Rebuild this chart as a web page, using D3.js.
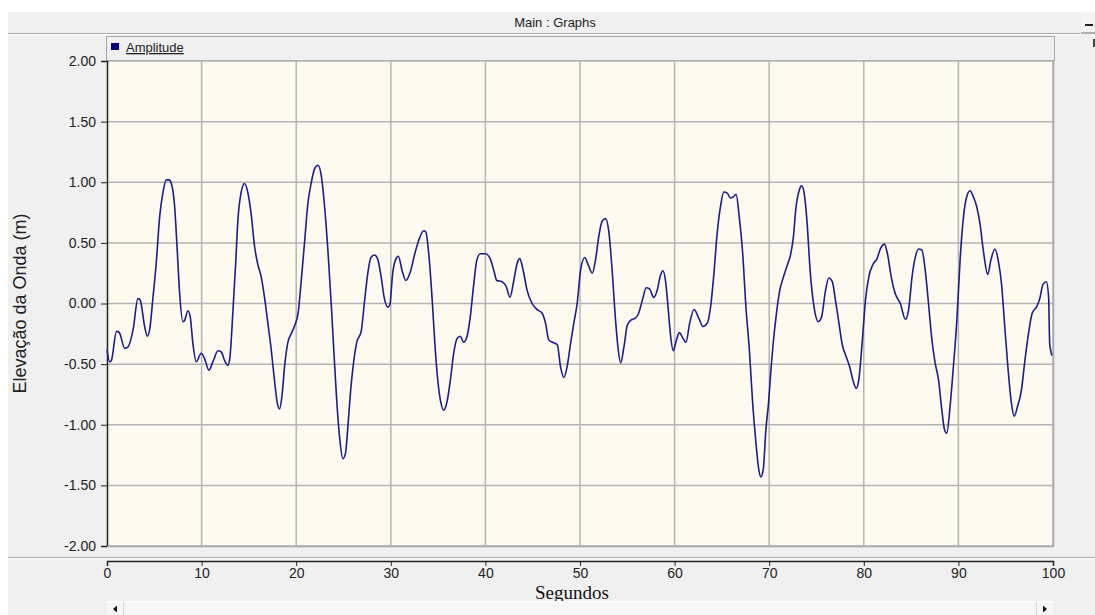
<!DOCTYPE html>
<html>
<head>
<meta charset="utf-8">
<script src="https://cdn.jsdelivr.net/npm/d3@7"></script>
<style>
  body { margin: 0; background: #fff; }
  text { font-family: "Liberation Sans", Arial, sans-serif; }
</style>
</head>
<body>
<div id="chart"></div>
<script>
// Time samples (s) and wave elevation (m)
const seconds = [
  0, 0.28, 0.46, 1.0, 1.3, 1.87, 2.2, 2.75, 3.27, 3.5, 3.98, 4.26, 4.5, 4.86, 5.2, 5.56, 5.9, 6.27, 6.55, 6.8,
  7.15, 7.39, 7.68, 8.03, 8.2, 8.56, 8.8, 9.08, 9.44, 9.96, 10.3, 10.77, 11.2, 11.73, 12.08, 12.43, 12.78, 13.0, 13.3, 13.6,
  13.84, 14.19, 14.54, 14.9, 15.25, 15.6, 15.95, 16.3, 16.65, 17.0, 17.36, 17.7, 18.0, 18.24, 18.5, 18.77, 19.12, 19.47, 19.8, 20.2,
  20.5, 20.9, 21.2, 21.6, 21.94, 22.3, 22.64, 23.0, 23.35, 23.7, 24.05, 24.4, 24.65, 24.93, 25.2, 25.46, 25.7, 26.06, 26.4, 26.87,
  27.2, 27.57, 27.9, 28.27, 28.6, 28.98, 29.3, 29.68, 29.9, 30.2, 30.5, 30.8, 31.2, 31.6, 32.1, 32.5, 32.95, 33.47, 33.7, 34.07,
  34.4, 34.7, 35.0, 35.3, 35.6, 35.94, 36.3, 36.65, 37.0, 37.35, 37.7, 38.06, 38.4, 38.77, 39.1, 39.47, 40.0, 40.5, 40.9, 41.2,
  41.76, 42.2, 42.6, 43.0, 43.35, 43.63, 44.0, 44.4, 44.94, 45.47, 46.0, 46.35, 46.7, 47.1, 47.6, 47.94, 48.3, 48.64, 49.0, 49.35,
  49.7, 50.05, 50.5, 50.86, 51.3, 51.64, 52.0, 52.35, 52.7, 53.05, 53.4, 53.76, 54.04, 54.3, 54.64, 55.0, 55.34, 55.87, 56.2, 56.6,
  57.0, 57.35, 57.8, 58.16, 58.5, 58.77, 59.05, 59.33, 59.58, 59.86, 60.1, 60.5, 60.9, 61.2, 61.6, 62.05, 62.5, 63.0, 63.46, 63.8,
  64.16, 64.5, 64.87, 65.2, 65.57, 65.9, 66.2, 66.5, 66.84, 67.2, 67.54, 67.9, 68.25, 68.6, 68.9, 69.12, 69.37, 69.65, 69.93, 70.18,
  70.42, 70.77, 71.12, 71.47, 71.93, 72.28, 72.56, 72.8, 73.16, 73.44, 73.75, 74.04, 74.3, 74.74, 75.2, 75.54, 75.96, 76.3, 76.67, 77.0,
  77.37, 77.7, 78.14, 78.5, 78.84, 79.2, 79.47, 79.82, 80.18, 80.53, 80.95, 81.4, 81.75, 82.18, 82.5, 82.9, 83.33, 83.86, 84.4, 84.74,
  85.1, 85.44, 85.8, 86.14, 86.5, 86.84, 87.2, 87.54, 87.9, 88.25, 88.53, 88.77, 89.12, 89.47, 89.82, 90.18, 90.53, 90.88, 91.23, 91.58,
  91.93, 92.28, 92.63, 93.1, 93.44, 93.86, 94.2, 94.56, 94.9, 95.26, 95.6, 95.9, 96.25, 96.67, 97.0, 97.37, 97.8, 98.25, 98.6, 98.95,
  99.3, 99.54, 99.65, 99.9
];
const amplitude = [
  -0.38, -0.48, -0.47, -0.23, -0.24, -0.37, -0.36, -0.22, 0.04, 0.03, -0.19, -0.27, -0.22, 0.05, 0.33, 0.71, 0.91, 1.02, 1.02, 0.99,
  0.80, 0.49, 0.08, -0.15, -0.14, -0.06, -0.11, -0.33, -0.48, -0.41, -0.45, -0.55, -0.48, -0.39, -0.40, -0.47, -0.51, -0.44, -0.08, 0.33,
  0.69, 0.92, 0.99, 0.91, 0.73, 0.47, 0.32, 0.22, 0.05, -0.16, -0.38, -0.63, -0.82, -0.87, -0.76, -0.52, -0.32, -0.25, -0.19, -0.08,
  0.16, 0.52, 0.80, 1.00, 1.11, 1.14, 1.06, 0.80, 0.44, 0.00, -0.49, -0.93, -1.15, -1.28, -1.24, -1.02, -0.77, -0.49, -0.32, -0.23,
  0.00, 0.25, 0.38, 0.40, 0.37, 0.22, 0.05, -0.03, -0.01, 0.25, 0.36, 0.39, 0.27, 0.19, 0.27, 0.40, 0.52, 0.60, 0.59, 0.36,
  0.00, -0.38, -0.66, -0.82, -0.88, -0.81, -0.63, -0.41, -0.29, -0.27, -0.32, -0.27, -0.11, 0.16, 0.36, 0.41, 0.41, 0.37, 0.27, 0.19,
  0.18, 0.14, 0.05, 0.19, 0.33, 0.37, 0.27, 0.11, 0.00, -0.05, -0.08, -0.16, -0.30, -0.32, -0.34, -0.52, -0.61, -0.52, -0.33, -0.16,
  0.00, 0.27, 0.38, 0.32, 0.25, 0.36, 0.56, 0.68, 0.70, 0.59, 0.27, -0.14, -0.38, -0.49, -0.36, -0.18, -0.14, -0.12, -0.08, 0.03,
  0.13, 0.12, 0.05, 0.11, 0.23, 0.27, 0.18, -0.05, -0.27, -0.39, -0.33, -0.24, -0.29, -0.32, -0.16, -0.05, -0.11, -0.19, -0.16, -0.03,
  0.25, 0.58, 0.81, 0.92, 0.91, 0.87, 0.88, 0.90, 0.71, 0.41, -0.03, -0.38, -0.82, -1.15, -1.37, -1.43, -1.37, -1.04, -0.82, -0.55,
  -0.33, -0.08, 0.11, 0.21, 0.32, 0.41, 0.55, 0.77, 0.93, 0.97, 0.88, 0.63, 0.30, -0.03, -0.15, -0.11, 0.11, 0.21, 0.18, 0.03,
  -0.16, -0.33, -0.44, -0.52, -0.63, -0.70, -0.63, -0.33, 0.03, 0.22, 0.32, 0.37, 0.45, 0.49, 0.41, 0.22, 0.08, 0.00, -0.13, -0.05,
  0.22, 0.38, 0.45, 0.44, 0.27, 0.00, -0.30, -0.49, -0.63, -0.88, -1.04, -1.07, -0.85, -0.52, -0.16, 0.36, 0.71, 0.88, 0.93, 0.88,
  0.80, 0.66, 0.44, 0.24, 0.36, 0.45, 0.36, 0.16, -0.19, -0.55, -0.82, -0.93, -0.85, -0.71, -0.49, -0.27, -0.08, -0.03, 0.04, 0.16,
  0.18, 0.05, -0.33, -0.43
];
const xTicks = [0, 10, 20, 30, 40, 50, 60, 70, 80, 90, 100];
const yTicks = [-2, -1.5, -1, -0.5, 0, 0.5, 1, 1.5, 2];

const width = 1095;
const height = 615;

// plot frame
const plotLeft = 107, plotRight = 1053, plotTop = 61, plotBottom = 546;

const svg = d3.select('#chart')
  .append('svg')
  .attr('width', width)
  .attr('height', height);

// window background
svg.append('rect').attr('width', width).attr('height', height).attr('fill', '#fff');
svg.append('rect').attr('x', 8).attr('y', 12).attr('width', width - 8).attr('height', height - 12).attr('fill', '#f0f0f0');

// title bar
svg.append('line').attr('x1', 8).attr('x2', 1080).attr('y1', 33.5).attr('y2', 33.5).attr('stroke', '#a9a9a9');
svg.append('line').attr('x1', 8).attr('x2', 1080).attr('y1', 34.5).attr('y2', 34.5).attr('stroke', '#fff');
svg.append('text')
  .attr('x', 555).attr('y', 27)
  .attr('text-anchor', 'middle')
  .attr('font-size', '13px')
  .attr('fill', '#222')
  .text('Main : Graphs');
// minimise button
svg.append('rect').attr('x', 1081).attr('y', 12).attr('width', 14).attr('height', 21).attr('fill', '#f4f4f4');
svg.append('rect').attr('x', 1081).attr('y', 32).attr('width', 14).attr('height', 2).attr('fill', '#b0b0b0');
svg.append('rect').attr('x', 1085).attr('y', 24).attr('width', 8).attr('height', 2).attr('fill', '#222');
svg.append('rect').attr('x', 1093).attr('y', 39).attr('width', 2).attr('height', 8).attr('fill', '#444');

// legend bar
svg.append('rect')
  .attr('x', 106.5).attr('y', 36.5).attr('width', plotRight - 106 + 1).attr('height', 24)
  .attr('fill', '#f0f0f0').attr('stroke', '#a9a9a9');
svg.append('rect').attr('x', 111).attr('y', 43).attr('width', 8).attr('height', 7).attr('fill', '#000080');
svg.append('text')
  .attr('x', 126).attr('y', 52)
  .attr('font-size', '13px')
  .attr('fill', '#222')
  .attr('text-decoration', 'underline')
  .text('Amplitude');

// scales
const x = d3.scaleLinear().domain([0, 100]).range([plotLeft, plotRight]);
const y = d3.scaleLinear().domain([-2, 2]).range([plotBottom, plotTop]);

// plot background
svg.append('rect')
  .attr('x', plotLeft).attr('y', plotTop)
  .attr('width', plotRight - plotLeft).attr('height', plotBottom - plotTop)
  .attr('fill', '#fffaf0');

// grid
const grid = svg.append('g').attr('stroke', '#b4b4b4').attr('stroke-width', 1.5);
grid.selectAll('line.v').data(xTicks.slice(1)).enter().append('line')
  .attr('x1', d => x(d)).attr('x2', d => x(d))
  .attr('y1', plotTop).attr('y2', plotBottom);
grid.selectAll('line.h').data(yTicks).enter().append('line')
  .attr('x1', plotLeft).attr('x2', plotRight)
  .attr('y1', d => y(d)).attr('y2', d => y(d));

// y axis
const yAxis = svg.append('g')
  .attr('transform', `translate(${plotLeft},0)`)
  .call(d3.axisLeft(y).tickValues(yTicks).tickFormat(d => d.toFixed(2)).tickSize(6).tickPadding(5));
yAxis.select('.domain').attr('stroke', '#222').attr('stroke-width', 1.5);
yAxis.selectAll('.tick line').attr('stroke', '#222');
yAxis.selectAll('text')
  .attr('font-family', '"Liberation Sans", Arial, sans-serif')
  .attr('font-size', '14px')
  .attr('fill', '#222');

// separator above x axis
svg.append('line').attr('x1', 8).attr('x2', width).attr('y1', 557.5).attr('y2', 557.5).attr('stroke', '#a9a9a9');
svg.append('line').attr('x1', 8).attr('x2', width).attr('y1', 558.5).attr('y2', 558.5).attr('stroke', '#fff');

// x axis
const xAxis = svg.append('g')
  .attr('transform', 'translate(0,561)')
  .call(d3.axisBottom(x).tickValues(xTicks).tickSize(5).tickPadding(2).tickSizeOuter(5));
xAxis.select('.domain').attr('stroke', '#222').attr('stroke-width', 1.5);
xAxis.selectAll('.tick line').attr('stroke', '#222');
xAxis.selectAll('text')
  .attr('font-family', '"Liberation Sans", Arial, sans-serif')
  .attr('font-size', '14px')
  .attr('fill', '#222');

// axis titles
svg.append('text')
  .attr('x', 572).attr('y', 599)
  .attr('text-anchor', 'middle')
  .style('font-family', '"Liberation Serif", "Times New Roman", serif')
  .attr('font-size', '19px')
  .attr('fill', '#111')
  .text('Segundos');
svg.append('text')
  .attr('transform', `translate(26,${(plotTop + plotBottom) / 2}) rotate(-90)`)
  .attr('text-anchor', 'middle')
  .attr('font-size', '18px')
  .attr('fill', '#222')
  .text('Elevação da Onda (m)');

// horizontal scrollbar
svg.append('rect').attr('x', 107).attr('y', 601).attr('width', plotRight - 107).attr('height', 14).attr('fill', '#f7f7f7');
svg.append('line').attr('x1', 107).attr('x2', plotRight).attr('y1', 601.5).attr('y2', 601.5).attr('stroke', '#fff');
svg.append('line').attr('x1', 123.5).attr('x2', 123.5).attr('y1', 602).attr('y2', 615).attr('stroke', '#d8d8d8');
svg.append('line').attr('x1', 1036.5).attr('x2', 1036.5).attr('y1', 602).attr('y2', 615).attr('stroke', '#d8d8d8');
svg.append('path').attr('d', 'M113,609 L117,605.5 L117,612.5 Z').attr('fill', '#111');
svg.append('path').attr('d', 'M1047,609 L1043,605.5 L1043,612.5 Z').attr('fill', '#111');

// the wave record
const points = seconds.map((t, i) => ({ t: t, v: amplitude[i] }));
const line = d3.line()
  .x(d => x(d.t))
  .y(d => y(d.v))
  .curve(d3.curveMonotoneX);

svg.append('path')
  .datum(points)
  .attr('fill', 'none')
  .attr('stroke', '#1c1c8a')
  .attr('stroke-width', 1.6)
  .attr('d', line);

// plot frame right and bottom edges
svg.append('line').attr('x1', plotRight + 0.5).attr('x2', plotRight + 0.5).attr('y1', plotTop).attr('y2', plotBottom + 1).attr('stroke', '#a9a9a9').attr('stroke-width', 1.5);
svg.append('line').attr('x1', plotLeft).attr('x2', plotRight).attr('y1', plotBottom + 0.5).attr('y2', plotBottom + 0.5).attr('stroke', '#a9a9a9').attr('stroke-width', 1.5);
</script>
</body>
</html>
